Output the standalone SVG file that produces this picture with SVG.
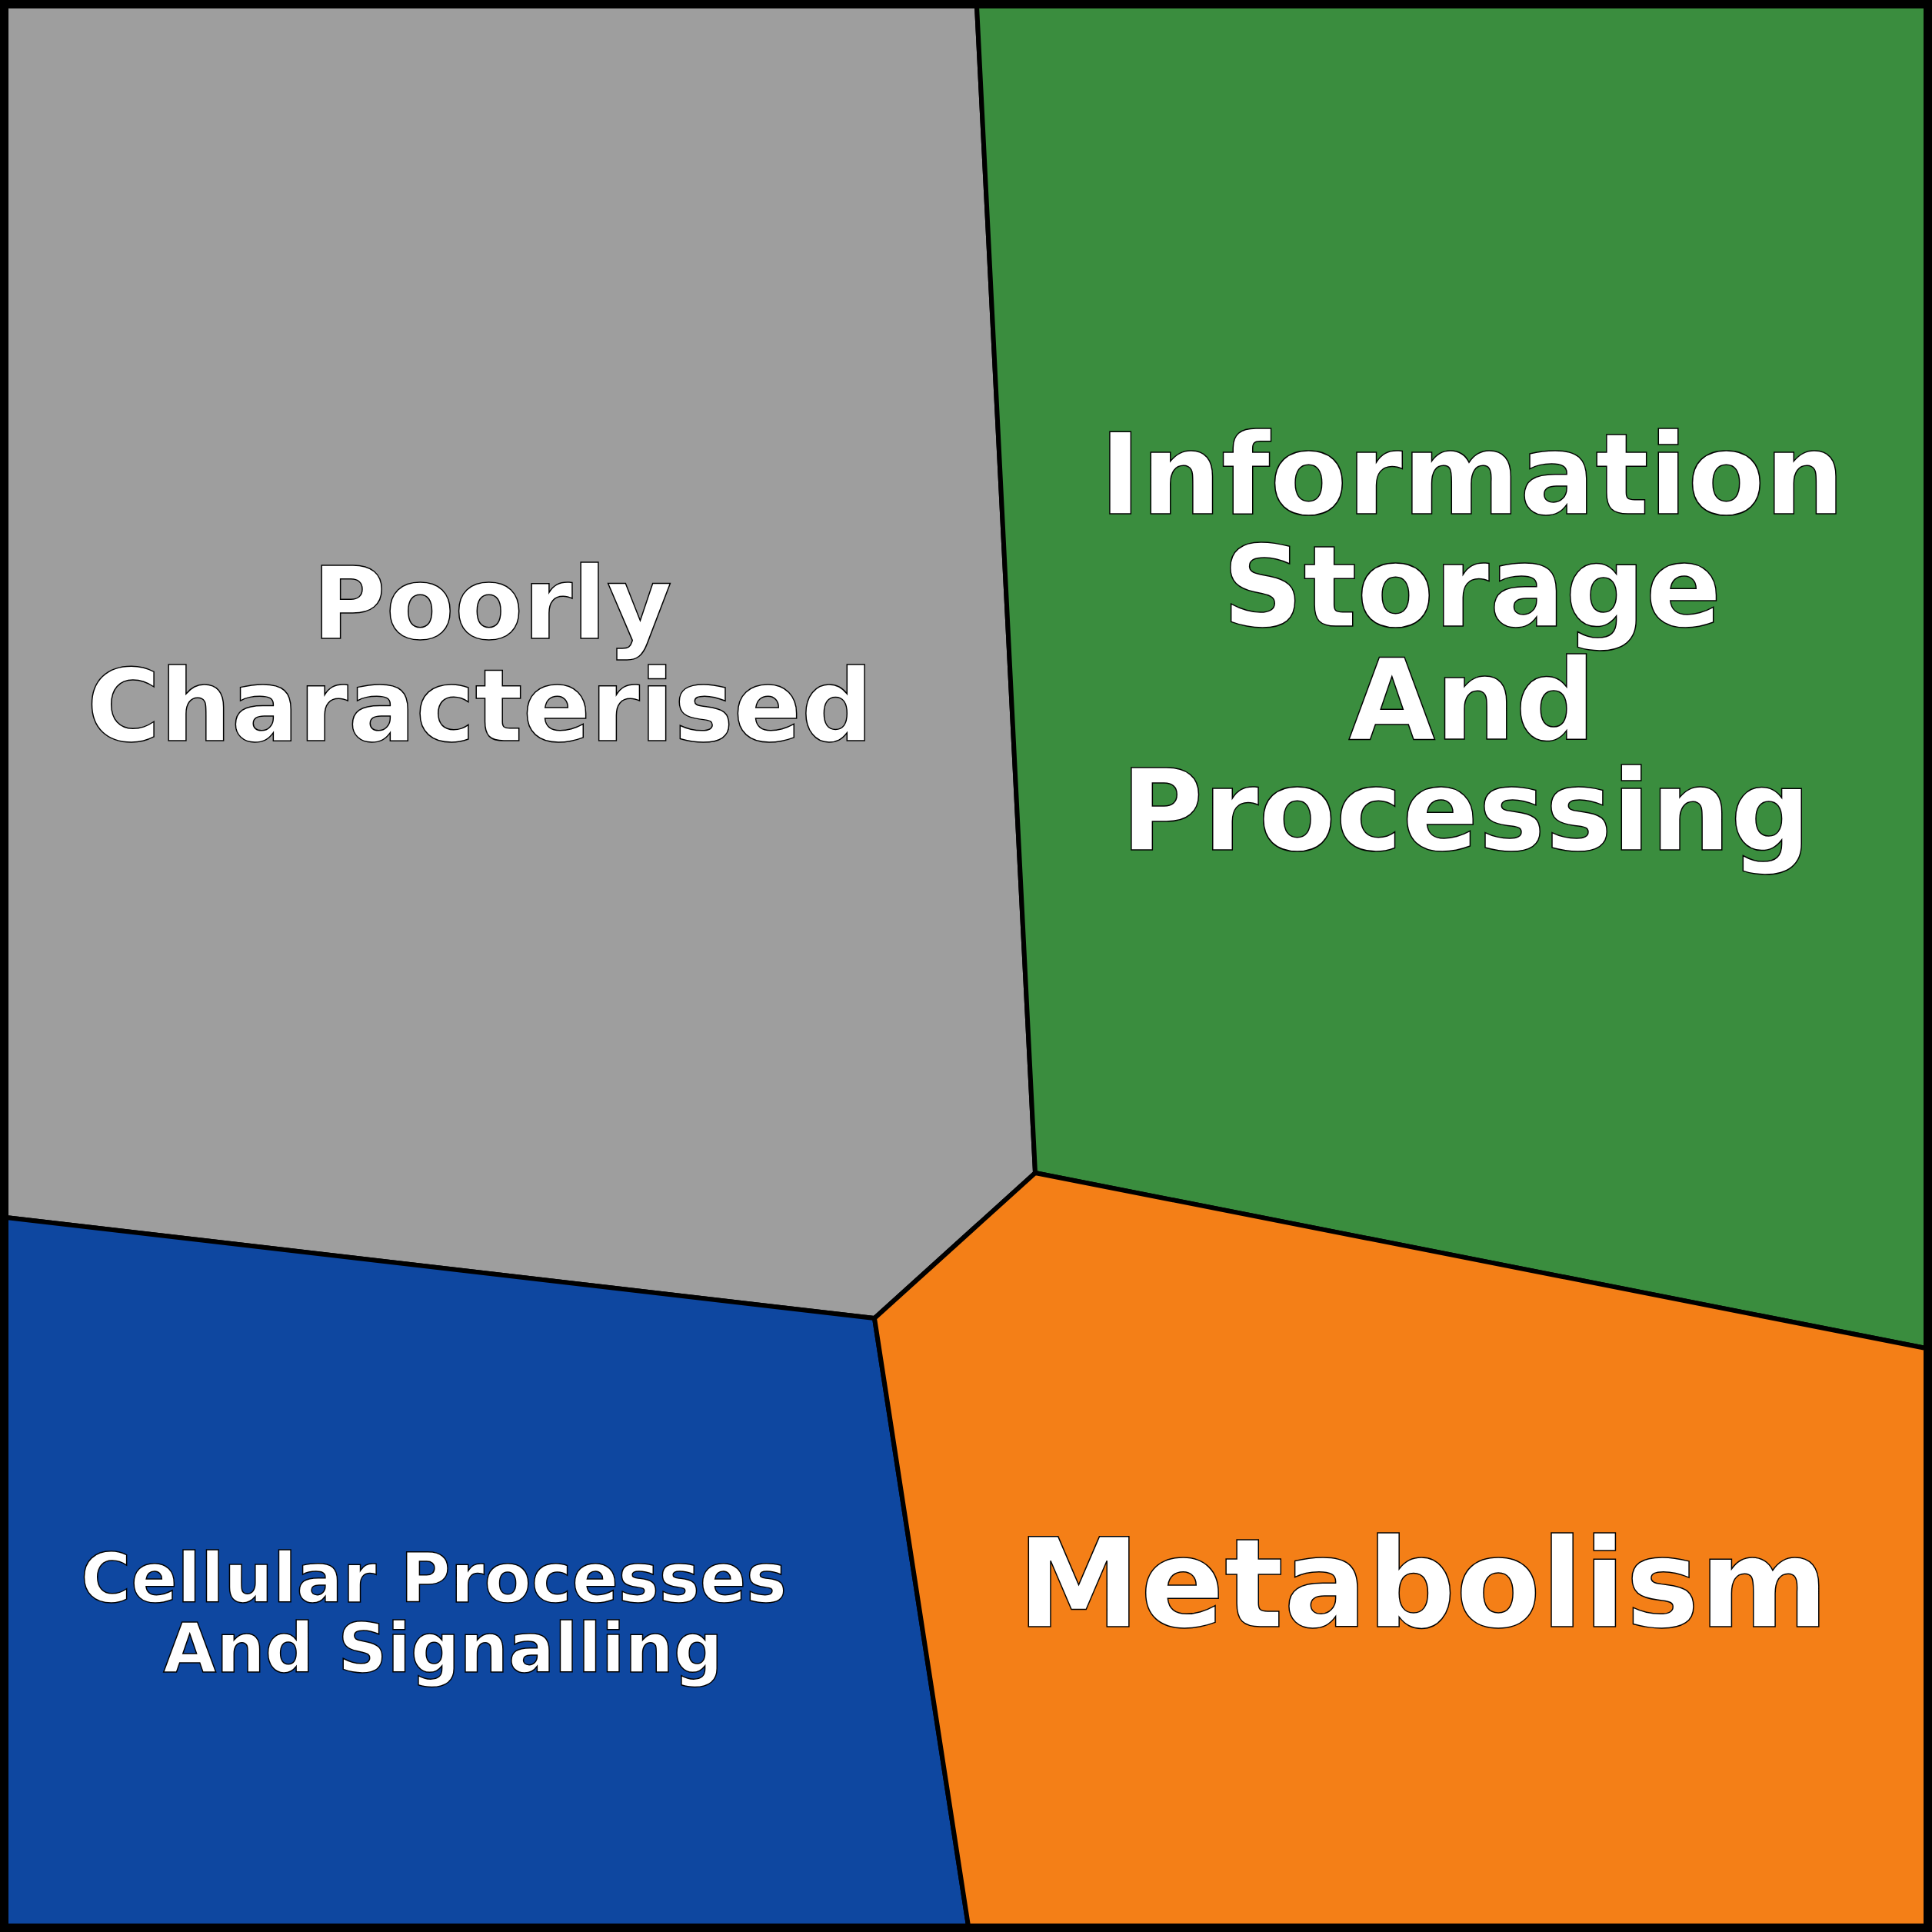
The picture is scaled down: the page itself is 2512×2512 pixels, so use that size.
<svg xmlns="http://www.w3.org/2000/svg" width="2512" height="2512" viewBox="0 0 2512 2512">
<style>
.r{stroke:#000;stroke-width:6;stroke-linejoin:round}
.t{font-family:"DejaVu Sans",sans-serif;font-weight:bold;fill:#fff;stroke:#000;stroke-width:1.5;text-anchor:middle}
</style>
<g id="poorly"><polygon class="r" fill="#9e9e9e" points="8,8 1270,8 1346,1525 1137,1714 8,1583"/>
<text class="t" font-size="130"><tspan x="640" y="830">Poorly</tspan><tspan x="624" y="963">Characterised</tspan></text></g>
<g id="info"><polygon class="r" fill="#3a8d3e" points="1270,8 2504,8 2504,1753 1346,1525"/>
<text class="t" font-size="146"><tspan x="1914" y="668">Information</tspan><tspan x="1914" y="814">Storage</tspan><tspan x="1914" y="961">And</tspan><tspan x="1906" y="1105">Processing</tspan></text></g>
<g id="cellular"><polygon class="r" fill="#0e47a0" points="8,1583 1137,1714 1259,2504 8,2504"/>
<text class="t" font-size="89"><tspan x="564" y="2083">Cellular Processes</tspan><tspan x="576" y="2174">And Signalling</tspan></text></g>
<g id="metabolism"><polygon class="r" fill="#f47f17" points="1137,1714 1346,1525 2504,1753 2504,2504 1259,2504"/>
<text class="t" font-size="161" x="1850" y="2115">Metabolism</text></g>
<rect x="5" y="5" width="2502" height="2502" fill="none" stroke="#000" stroke-width="10"/>
</svg>
